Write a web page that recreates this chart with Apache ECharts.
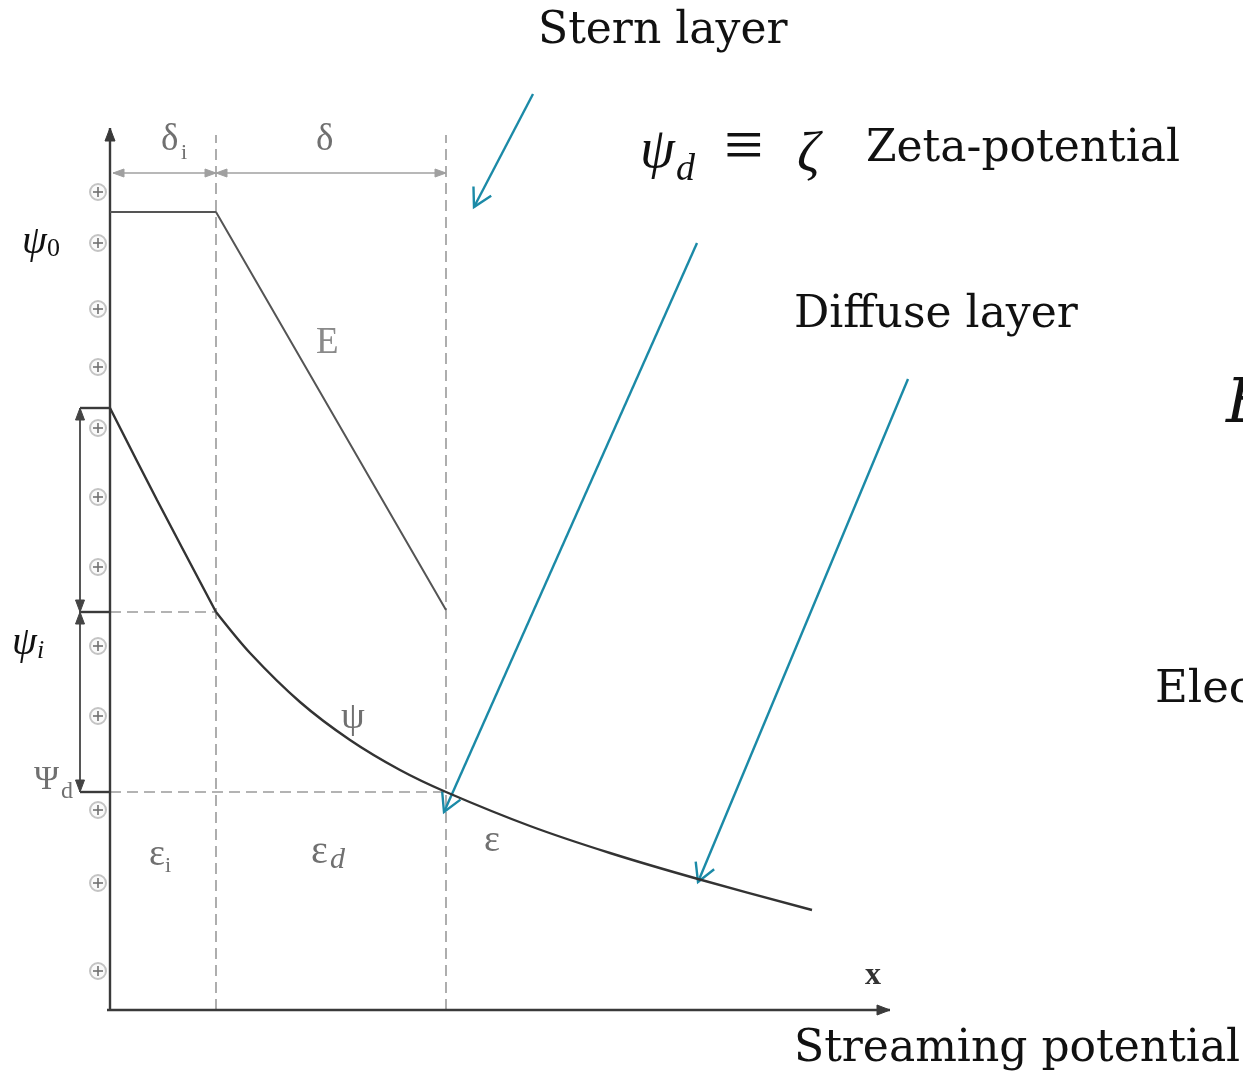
<!DOCTYPE html>
<html>
<head>
<meta charset="utf-8">
<title>Stern layer / diffuse layer</title>
<script src="https://cdn.jsdelivr.net/npm/echarts@6/dist/echarts.min.js"></script>
<style>
  html, body { margin: 0; padding: 0; background: #fff; }
  #chart { width: 1243px; height: 1076px; }
</style>
</head>
<body>
<div id="chart"></div>
<script>
// distance from the wall (x) and potential (y), arbitrary units
const deltaI = 10.6;
const delta = 33.6;
const psi0 = 79.8;
const psiI = 39.8;
const psiD = 21.8;

// E: flat at psi0 over the inner layer, then linear drop
const fieldLine = [[0, 79.8], [10.6, 79.8], [33.6, 40.0]];
// psi in the Stern layer (near linear)
const sternPsi = [[0, 60.2], [4.7, 51.0], [10.6, 39.8]];
// psi in the diffuse layer (decay)
const diffusePsi = [
  [10.6, 39.8], [14.0, 35.7], [19.0, 30.8], [24.0, 27.0], [29.0, 24.0],
  [33.6, 21.8], [42.0, 18.4], [50.0, 15.7], [58.8, 13.1], [70.2, 10.0]
];
// surface charges along the wall
const chargeX = -1.2;
const chargeY = [81.8, 76.7, 70.1, 64.3, 58.2, 51.3, 44.3, 36.4, 29.4, 20.0, 12.7, 3.9];

// [x1, y1, x2, y2]
const axisLines = [[0, 0, 0, 88.2], [-0.3, 0, 78.0, 0]];
const levelTicks = [[-3, 60.2, 0, 60.2], [-3, psiI, 0, psiI], [-3, psiD, 0, psiD]];
const levelSpans = [[-3, 60.2, -3, psiI], [-3, psiI, -3, psiD]];
const guideLines = [
  [0, psiI, deltaI, psiI], [0, psiD, delta, psiD],
  [deltaI, 0, deltaI, 87.5], [delta, 0, delta, 87.5]
];
const widthSpans = [[0.3, 83.7, deltaI, 83.7], [deltaI, 83.7, delta, 83.7]];
// callout arrows: tail -> tip
const pointers = [
  [42.3, 91.6, 36.4, 80.3],
  [58.7, 76.7, 33.4, 19.8],
  [79.8, 63.1, 58.8, 12.8]
];

const chart = echarts.init(document.getElementById('chart'));

function headPoints(tip, from, len, half) {
  const dx = tip[0] - from[0], dy = tip[1] - from[1];
  const d = Math.sqrt(dx * dx + dy * dy) || 1;
  const ux = dx / d, uy = dy / d;
  const bx = tip[0] - ux * len, by = tip[1] - uy * len;
  return [[bx - uy * half, by + ux * half], tip, [bx + uy * half, by - ux * half]];
}

function segments(name, data, color, width, opts) {
  opts = opts || {};
  return {
    type: 'custom',
    name: name,
    coordinateSystem: 'cartesian2d',
    silent: true,
    data: data,
    encode: { x: [0, 2], y: [1, 3] },
    renderItem: function (params, api) {
      const a = api.coord([api.value(0), api.value(1)]);
      const b = api.coord([api.value(2), api.value(3)]);
      const children = [{
        type: 'line',
        shape: { x1: a[0], y1: a[1], x2: b[0], y2: b[1] },
        style: { stroke: color, lineWidth: width, lineDash: opts.dash || null }
      }];
      const len = opts.len || 10, half = opts.half || 4;
      const ends = opts.heads === 'both' ? [[b, a], [a, b]] : opts.heads === 'end' ? [[b, a]] : [];
      ends.forEach(function (e) {
        const pts = headPoints(e[0], e[1], len, half);
        if (opts.open) {
          children.push({ type: 'polyline', shape: { points: pts },
            style: { stroke: color, lineWidth: width, fill: null } });
        } else {
          children.push({ type: 'polygon', shape: { points: pts },
            style: { fill: color, stroke: color, lineWidth: 1 } });
        }
      });
      return { type: 'group', children: children };
    }
  };
}

const serif = '"DejaVu Serif", "Liberation Serif", serif';
const figSerif = '"Liberation Serif", "DejaVu Serif", serif';
const gray = '#707070';

function txt(text, x, y, size, o) {
  o = o || {};
  return {
    type: 'text', x: x, y: y, silent: true, z: 10,
    style: {
      text: text,
      fontSize: size,
      fontFamily: o.family || serif,
      fontStyle: o.italic ? 'italic' : 'normal',
      fontWeight: o.bold ? 'bold' : 'normal',
      fill: o.color || '#111',
      align: 'left', textAlign: 'left',
      verticalAlign: 'middle', textVerticalAlign: 'middle'
    }
  };
}

const texts = [
  txt('Stern layer', 538, 32, 44),
  txt('ψ', 640, 152, 56, { family: figSerif, italic: true }),
  txt('d', 676, 170, 38, { family: figSerif, italic: true }),
  txt('≡', 724, 150, 70, { family: figSerif }),
  txt('ζ', 797, 156, 56, { family: figSerif, italic: true }),
  txt('Zeta-potential', 866, 150, 44),
  txt('Diffuse layer', 794, 316, 44),
  txt('Streaming potential', 794, 1050, 44),
  txt('Elec', 1155, 690, 45),
  txt('E', 1226, 406, 62, { italic: true }),

  txt('δ', 161, 140, 37, { family: figSerif, color: gray }),
  txt('i', 181, 153, 22, { family: figSerif, color: gray }),
  txt('δ', 316, 140, 37, { family: figSerif, color: gray }),
  txt('E', 316, 343, 37, { family: figSerif, color: '#8a8a8a' }),
  txt('ψ', 22, 242, 40, { family: figSerif, italic: true }),
  txt('0', 47, 249, 26, { family: figSerif }),
  txt('ψ', 12, 643, 40, { family: figSerif, italic: true }),
  txt('i', 37, 651, 26, { family: figSerif, italic: true }),
  txt('Ψ', 34, 780, 34, { family: figSerif, color: gray }),
  txt('d', 61, 792, 24, { family: figSerif, color: gray }),
  txt('ψ', 341, 718, 38, { family: figSerif, color: gray }),
  txt('ε', 484, 841, 38, { family: figSerif, color: gray }),
  txt('ε', 149, 855, 38, { family: figSerif, color: gray }),
  txt('i', 165, 866, 22, { family: figSerif, color: gray }),
  txt('ε', 311, 852, 40, { family: figSerif, color: gray }),
  txt('d', 330, 860, 30, { family: figSerif, italic: true, color: gray }),
  txt('x', 865, 976, 32, { family: figSerif, bold: true, color: '#333' })
];

const option = {
  animation: false,
  backgroundColor: '#fff',
  grid: { left: 0, right: 0, top: 0, bottom: 0 },
  xAxis: { type: 'value', min: -11, max: 113.3, show: false },
  yAxis: { type: 'value', min: -6.6, max: 101, show: false },
  graphic: texts,
  series: [
    segments('guides', guideLines, '#9a9a9a', 1.6, { dash: [11, 6] }),
    segments('widths', widthSpans, '#a0a0a0', 1.4, { heads: 'both', len: 11, half: 4 }),
    segments('axes', axisLines, '#3a3a3a', 2.4, { heads: 'end', len: 13, half: 5 }),
    segments('ticks', levelTicks, '#3a3a3a', 2.4),
    segments('spans', levelSpans, '#444', 1.8, { heads: 'both', len: 12, half: 4.5 }),
    {
      type: 'line', name: 'E', data: fieldLine, symbol: 'none', silent: true,
      lineStyle: { color: '#555', width: 2 }
    },
    {
      type: 'line', name: 'psi stern', data: sternPsi, symbol: 'none', silent: true,
      smooth: 0.3, lineStyle: { color: '#333', width: 2.4 }
    },
    {
      type: 'line', name: 'psi diffuse', data: diffusePsi, symbol: 'none', silent: true,
      smooth: 0.3, lineStyle: { color: '#333', width: 2.4 }
    },
    {
      type: 'custom', name: 'charges', coordinateSystem: 'cartesian2d', silent: true,
      data: chargeY.map(function (y) { return [chargeX, y]; }),
      renderItem: function (params, api) {
        const p = api.coord([api.value(0), api.value(1)]);
        return {
          type: 'group',
          children: [
            { type: 'circle', shape: { cx: p[0], cy: p[1], r: 8 },
              style: { stroke: '#c4c4c4', lineWidth: 2, fill: '#fafafa' } },
            { type: 'line', shape: { x1: p[0] - 5, y1: p[1], x2: p[0] + 5, y2: p[1] },
              style: { stroke: '#707070', lineWidth: 1.6 } },
            { type: 'line', shape: { x1: p[0], y1: p[1] - 5, x2: p[0], y2: p[1] + 5 },
              style: { stroke: '#707070', lineWidth: 1.6 } }
          ]
        };
      }
    },
    segments('pointers', pointers, '#1b8aa7', 2.4, { heads: 'end', open: true, len: 18, half: 10 })
  ]
};

chart.setOption(option);
</script>
</body>
</html>
